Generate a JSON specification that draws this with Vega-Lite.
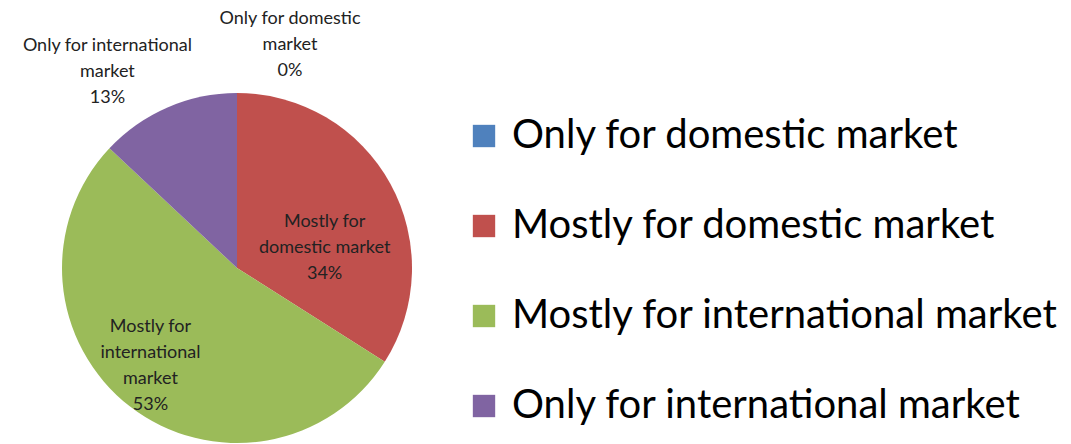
{
  "$schema": "https://vega.github.io/schema/vega-lite/v6.json",
  "width": 350,
  "height": 350,
  "autosize": "none",
  "padding": {"left": 62, "top": 93, "right": 659, "bottom": 1},
  "background": "white",
  "config": {"view": {"stroke": null}, "font": "Lato"},
  "data": {
    "values": [
      {"cat": "Only for domestic market", "value": 0, "order": 1, "label": "Only for domestic\nmarket\n0%"},
      {"cat": "Mostly for domestic market", "value": 34, "order": 2, "label": "Mostly for\ndomestic market\n34%"},
      {"cat": "Mostly for international market", "value": 53, "order": 3, "label": "Mostly for\ninternational\nmarket\n53%"},
      {"cat": "Only for international market", "value": 13, "order": 4, "label": "Only for international\nmarket\n13%"}
    ]
  },
  "encoding": {
    "theta": {"field": "value", "type": "quantitative", "stack": true},
    "order": {"field": "order", "type": "quantitative"}
  },
  "layer": [
    {
      "mark": {"type": "arc"},
      "encoding": {
        "color": {
          "field": "cat",
          "type": "nominal",
          "scale": {
            "domain": ["Only for domestic market", "Mostly for domestic market", "Mostly for international market", "Only for international market"],
            "range": ["#4F81BD", "#C0504D", "#9BBB59", "#8064A2"]
          },
          "legend": {
            "title": null,
            "orient": "none",
            "legendX": 402,
            "legendY": 23,
            "padding": 0,
            "symbolType": "square",
            "symbolSize": 500,
            "symbolStrokeWidth": 0,
            "labelFontSize": 40,
            "labelFont": "Lato",
            "labelColor": "#000000",
            "labelOffset": 8,
            "labelLimit": 0,
            "rowPadding": 50
          }
        }
      }
    },
    {
      "mark": {"type": "text", "radius": 223, "dx": 53, "dy": -26, "fontSize": 18, "lineBreak": "\n", "lineHeight": 26, "color": "#222222", "align": "center", "baseline": "middle"},
      "encoding": {"text": {"condition": {"test": "datum.cat === 'Only for domestic market'", "field": "label"}, "value": ""}}
    },
    {
      "mark": {"type": "text", "radius": 100, "dy": 2, "fontSize": 18, "lineBreak": "\n", "lineHeight": 26, "color": "#222222", "align": "center", "baseline": "middle"},
      "encoding": {"text": {"condition": {"test": "datum.cat === 'Mostly for domestic market'", "field": "label"}, "value": ""}}
    },
    {
      "mark": {"type": "text", "radius": 120, "dx": -13, "dy": -36, "fontSize": 18, "lineBreak": "\n", "lineHeight": 26, "color": "#222222", "align": "center", "baseline": "middle"},
      "encoding": {"text": {"condition": {"test": "datum.cat === 'Mostly for international market'", "field": "label"}, "value": ""}}
    },
    {
      "mark": {"type": "text", "radius": 213, "dx": -45, "dy": -27, "fontSize": 18, "lineBreak": "\n", "lineHeight": 26, "color": "#222222", "align": "center", "baseline": "middle"},
      "encoding": {"text": {"condition": {"test": "datum.cat === 'Only for international market'", "field": "label"}, "value": ""}}
    }
  ]
}
